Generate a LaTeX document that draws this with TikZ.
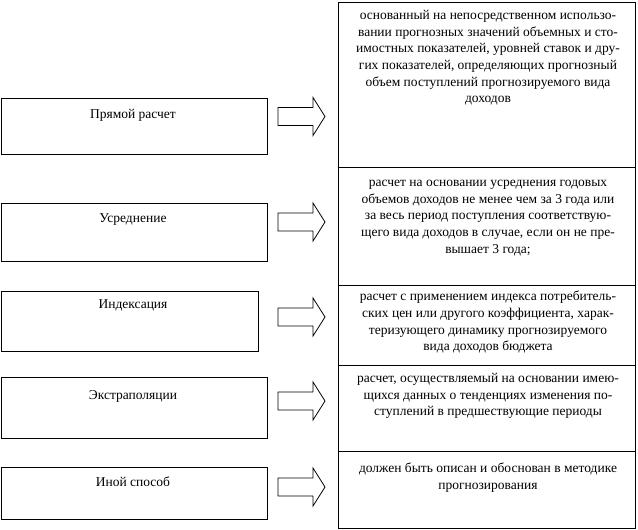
\documentclass[tikz,border=0pt]{standalone}
\usepackage{fontspec}
\setmainfont{Liberation Serif}
\newcommand\blockarr[1]{%
  \draw[harrow] (278,{#1-9}) -- (313,{#1-9}) -- (313,{#1-19}) -- (325,#1)
    -- (313,{#1+19}) -- (313,{#1+9}) -- (278,{#1+9}) -- cycle;}
\begin{document}
\begin{tikzpicture}[x=1pt,y=-1pt,
  lbox/.style={draw, line width=0.9pt, inner sep=0pt},
  cell/.style={draw, line width=1pt, inner sep=0pt, minimum width=297pt},
  desc/.style={anchor=north, align=center, font=\fontsize{13.5}{16.7}\selectfont, inner sep=0pt},
  lab/.style={anchor=center, font=\fontsize{13.5}{15}\selectfont, inner sep=0pt},
  harrow/.style={draw, line width=0.8pt, fill=white, line join=miter}]
\useasboundingbox[fill=white] (0,0) rectangle (638,530);

% right column cells
\node[cell, minimum height=165pt] (r1) at (486.5,84.5) {};
\node[cell, minimum height=118pt] (r2) at (486.5,226) {};
\node[cell, minimum height=80pt]  (r3) at (486.5,325) {};
\node[cell, minimum height=86pt]  (r4) at (486.5,408) {};
\node[cell, minimum height=77pt]  (r5) at (486.5,489.5) {};

\node[desc] (d1) at (488,10) {основанный на непосредственном использо-\\
вании прогнозных значений объемных и сто-\\
имостных показателей, уровней ставок и дру-\\
гих показателей, определяющих прогнозный\\
объем поступлений прогнозируемого вида\\
доходов};
\node[desc] (d2) at (488,180) {расчет на основании усреднения годовых\\
объемов доходов не менее чем за 3 года или\\
за весь период поступления соответствую-\\
щего вида доходов в случае, если он не пре-\\
вышает 3 года;};
\node[desc] (d3) at (488,291) {расчет с применением индекса потребитель-\\
ских цен или другого коэффициента, харак-\\
теризующего динамику прогнозируемого\\
вида доходов бюджета};
\node[desc] (d4) at (488,373) {расчет, осуществляемый на основании имею-\\
щихся данных о тенденциях изменения по-\\
ступлений в предшествующие периоды};
\node[desc] (d5) at (488,463) {должен быть описан и обоснован в методике\\
прогнозирования};

% left boxes
\node[lbox, minimum width=266pt, minimum height=56pt] (l1) at (134,126) {};
\node[lbox, minimum width=266pt, minimum height=58pt] (l2) at (134,232) {};
\node[lbox, minimum width=257pt, minimum height=60pt] (l3) at (129.5,321) {};
\node[lbox, minimum width=266pt, minimum height=61pt] (l4) at (134,407.5) {};
\node[lbox, minimum width=266pt, minimum height=52pt] (l5) at (134,493) {};

\node[lab] (t1) at (133,115) {Прямой расчет};
\node[lab] (t2) at (133,220) {Усреднение};
\node[lab] (t3) at (133,305) {Индексация};
\node[lab] (t4) at (133,396) {Экстраполяции};
\node[lab] (t5) at (133,482) {Иной способ};

% block arrows
\blockarr{116.5}
\blockarr{222}
\blockarr{317}
\blockarr{401}
\blockarr{487}
\end{tikzpicture}
\end{document}
